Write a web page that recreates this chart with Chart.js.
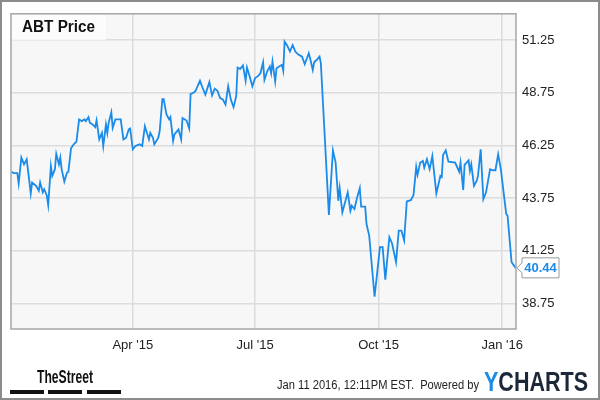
<!DOCTYPE html>
<html>
<head>
<meta charset="utf-8">
<script src="https://cdn.jsdelivr.net/npm/chart.js@4"></script>
<style>
  html, body { margin: 0; padding: 0; background: #fff; }
  canvas { display: block; }
</style>
</head>
<body>
<canvas id="abtChart" width="600" height="400"></canvas>
<script>
// days since Jan 1 2015, ABT close price
var days = [
  0, 1, 4, 5, 7, 9, 11, 14, 15, 18,
  20, 21, 23, 24, 26, 27, 29, 30, 32, 33,
  35, 36, 37, 39, 41, 42, 44, 46, 48, 50,
  52, 54, 55, 57, 58, 60, 62, 63, 65, 67,
  68, 70, 71, 72, 74, 75, 77, 81, 83, 85,
  87, 88, 90, 92, 95, 97, 99, 102, 103, 105,
  106, 109, 110, 112, 113, 115, 117, 118, 120, 121,
  124, 126, 127, 130, 132, 133, 136, 137, 140, 142,
  144, 147, 149, 151, 153, 155, 157, 159, 161, 163,
  165, 167, 168, 170, 172, 174, 175, 177, 179, 181,
  183, 185, 187, 188, 190, 192, 193, 194, 196, 197,
  199, 201, 202, 203, 205, 207, 209, 211, 213, 216,
  218, 221, 222, 224, 225, 227, 229, 230, 236, 239,
  241, 243, 244, 246, 248, 250, 252, 253, 255, 257,
  259, 260, 263, 264, 266, 270, 274, 276, 278, 281,
  283, 286, 288, 290, 292, 294, 297, 299, 301, 302,
  304, 306, 307, 309, 311, 313, 316, 319, 320, 321,
  323, 325, 330, 333, 334, 336, 337, 340, 341, 342,
  344, 346, 347, 349, 351, 353, 356, 358, 360, 362,
  364, 368, 369, 372, 375
];
var prices = [
  45.00, 44.93, 44.93, 44.44, 45.67, 45.35, 45.59, 43.97, 44.49, 44.33,
  44.10, 44.49, 44.02, 44.17, 43.86, 43.42, 45.27, 44.80, 45.12, 45.85,
  45.35, 45.67, 45.12, 44.53, 44.96, 44.99, 46.11, 46.30, 46.42, 47.48,
  47.40, 47.48, 47.40, 47.59, 47.32, 47.24, 47.11, 47.43, 46.53, 46.84,
  46.22, 47.24, 46.84, 47.32, 47.82, 47.08, 47.48, 47.48, 46.53, 46.61,
  47.01, 47.05, 46.06, 46.22, 46.30, 46.22, 47.16, 46.53, 46.84, 46.61,
  46.30, 46.61, 46.93, 48.44, 48.44, 47.73, 47.48, 47.59, 46.46, 46.77,
  47.01, 46.53, 47.55, 47.43, 47.05, 48.68, 48.78, 48.87, 49.32, 48.97,
  48.66, 49.25, 48.62, 48.94, 48.84, 48.49, 48.43, 48.18, 49.05, 48.42,
  48.06, 48.58, 49.94, 49.88, 50.04, 49.32, 49.94, 49.52, 49.05, 49.44,
  49.52, 49.67, 50.19, 49.36, 49.75, 49.99, 49.67, 50.23, 49.28, 49.91,
  49.99, 50.07, 49.79, 51.17, 50.98, 50.70, 51.01, 50.70, 50.57, 50.46,
  50.10, 50.62, 50.38, 49.83, 50.19, 50.31, 50.46, 50.15, 42.95, 46.01,
  45.43, 43.62, 44.22, 43.07, 43.54, 44.02, 43.15, 43.39, 43.23, 43.78,
  44.22, 43.34, 43.34, 42.52, 41.97, 39.07, 41.42, 41.42, 39.88, 41.89,
  41.61, 40.71, 42.21, 42.21, 41.74, 43.59, 43.65, 43.90, 45.23, 44.85,
  45.43, 45.51, 45.19, 45.59, 45.12, 45.74, 43.97, 44.80, 44.75, 45.79,
  46.01, 45.48, 45.43, 45.00, 45.43, 44.13, 45.32, 45.54, 45.04, 45.35,
  44.33, 44.56, 44.80, 46.06, 43.70, 44.02, 45.12, 45.07, 45.07, 45.83,
  45.12, 43.00, 42.92, 40.71, 40.44
];

var yTicks = [38.75, 41.25, 43.75, 46.25, 48.75, 51.25];
var xTickDays = [90, 181, 273, 365];
var xTickLabels = ["Apr '15", "Jul '15", "Oct '15", "Jan '16"];

var lineColor = '#1a8be8';
var font = '"Liberation Sans", Arial, sans-serif';

// squeeze text horizontally so it fits a given width
function fitText(ctx, text, x, y, w) {
  var m = ctx.measureText(text).width;
  ctx.save();
  ctx.translate(x, y);
  ctx.scale(w / m, 1);
  ctx.fillText(text, 0, 0);
  ctx.restore();
}

var ychartsDecor = {
  id: 'ychartsDecor',
  beforeDraw: function (chart) {
    var ctx = chart.ctx, a = chart.chartArea;
    ctx.save();
    ctx.fillStyle = '#fff';
    ctx.fillRect(0, 0, chart.width, chart.height);
    ctx.fillStyle = '#f7f7f7';
    ctx.fillRect(a.left, a.top, a.right - a.left, a.bottom - a.top);
    ctx.restore();
  },
  beforeDatasetsDraw: function (chart) {
    var ctx = chart.ctx, a = chart.chartArea;
    ctx.save();
    ctx.fillStyle = '#fcfcfc';
    ctx.fillRect(a.left + 1, a.top + 1, 94, 25);
    ctx.fillStyle = '#111';
    ctx.font = 'bold 16px ' + font;
    ctx.textBaseline = 'middle';
    fitText(ctx, 'ABT Price', 22, a.top + 14, 73);
    ctx.restore();
  },
  afterDraw: function (chart) {
    var ctx = chart.ctx, a = chart.chartArea;
    var ys = chart.scales.y;
    ctx.save();
    // plot frame
    ctx.strokeStyle = '#a6a6a6';
    ctx.lineWidth = 1.5;
    ctx.strokeRect(a.left, a.top, a.right - a.left, a.bottom - a.top);
    // outer frame
    ctx.strokeStyle = '#8c8c8c';
    ctx.lineWidth = 2;
    ctx.strokeRect(1, 1, chart.width - 2, chart.height - 2);

    // last value tag
    var last = prices[prices.length - 1];
    var py = ys.getPixelForValue(last);
    var bx = a.right + 6, bw = 37, bh = 20;
    ctx.beginPath();
    ctx.moveTo(a.right + 1, py);
    ctx.lineTo(bx, py - 5);
    ctx.lineTo(bx, py - bh / 2);
    ctx.lineTo(bx + bw, py - bh / 2);
    ctx.lineTo(bx + bw, py + bh / 2);
    ctx.lineTo(bx, py + bh / 2);
    ctx.lineTo(bx, py + 5);
    ctx.closePath();
    ctx.fillStyle = '#fff';
    ctx.fill();
    ctx.strokeStyle = '#999';
    ctx.lineWidth = 1;
    ctx.stroke();
    ctx.fillStyle = lineColor;
    ctx.font = 'bold 13px ' + font;
    ctx.textBaseline = 'middle';
    ctx.textAlign = 'center';
    ctx.fillText(last.toFixed(2), bx + bw / 2, py + 1);

    // footer
    ctx.textAlign = 'left';
    ctx.textBaseline = 'alphabetic';
    ctx.fillStyle = '#111';
    ctx.font = 'bold 18px "Liberation Sans Narrow", ' + font;
    fitText(ctx, 'TheStreet', 37, 383, 56);
    ctx.fillRect(10, 390, 34, 4);
    ctx.fillRect(48, 390, 34, 4);
    ctx.fillRect(87, 390, 34, 4);

    ctx.fillStyle = '#222';
    ctx.font = '12px ' + font;
    fitText(ctx, 'Jan 11 2016, 12:11PM EST.  Powered by', 277, 389, 202);

    ctx.font = 'bold 27px ' + font;
    var yw = ctx.measureText('Y').width, cw = ctx.measureText('CHARTS').width;
    var sx = 104 / (yw + cw);
    ctx.save();
    ctx.translate(484, 391);
    ctx.scale(sx, 1);
    ctx.fillStyle = '#1a8be8';
    ctx.fillText('Y', 0, 0);
    ctx.fillStyle = '#1c2838';
    ctx.fillText('CHARTS', yw, 0);
    ctx.restore();
    ctx.restore();
  }
};

var ctx = document.getElementById('abtChart').getContext('2d');

var abtChart = new Chart(ctx, {
  type: 'line',
  data: {
    datasets: [{
      data: days.map(function (d, i) { return { x: d, y: prices[i] }; }),
      borderColor: lineColor,
      borderWidth: 1.8,
      pointRadius: 0,
      tension: 0,
      fill: false
    }]
  },
  options: {
    responsive: false,
    animation: false,
    layout: { padding: { left: 11, top: 12, right: 0, bottom: 0 } },
    plugins: { legend: { display: false }, tooltip: { enabled: false } },
    scales: {
      x: {
        type: 'linear',
        min: -0.7,
        max: 375.3,
        afterBuildTicks: function (s) { s.ticks = xTickDays.map(function (v) { return { value: v }; }); },
        afterFit: function (s) { s.height = 71; },
        grid: { color: '#dcdcdc', lineWidth: 1.5, drawTicks: false },
        border: { display: false },
        ticks: {
          padding: 9,
          maxRotation: 0,
          color: '#222',
          font: { family: font, size: 13 },
          callback: function (v) { return xTickLabels[xTickDays.indexOf(v)]; }
        }
      },
      y: {
        position: 'right',
        min: 37.54,
        max: 52.49,
        afterBuildTicks: function (s) { s.ticks = yTicks.map(function (v) { return { value: v }; }); },
        afterFit: function (s) { s.width = 84; },
        grid: { color: '#dcdcdc', lineWidth: 1.5, drawTicks: false },
        border: { display: false },
        ticks: {
          padding: 6,
          color: '#222',
          font: { family: font, size: 13 },
          callback: function (v) { return v.toFixed(2); }
        }
      }
    }
  },
  plugins: [ychartsDecor]
});
</script>
</body>
</html>
